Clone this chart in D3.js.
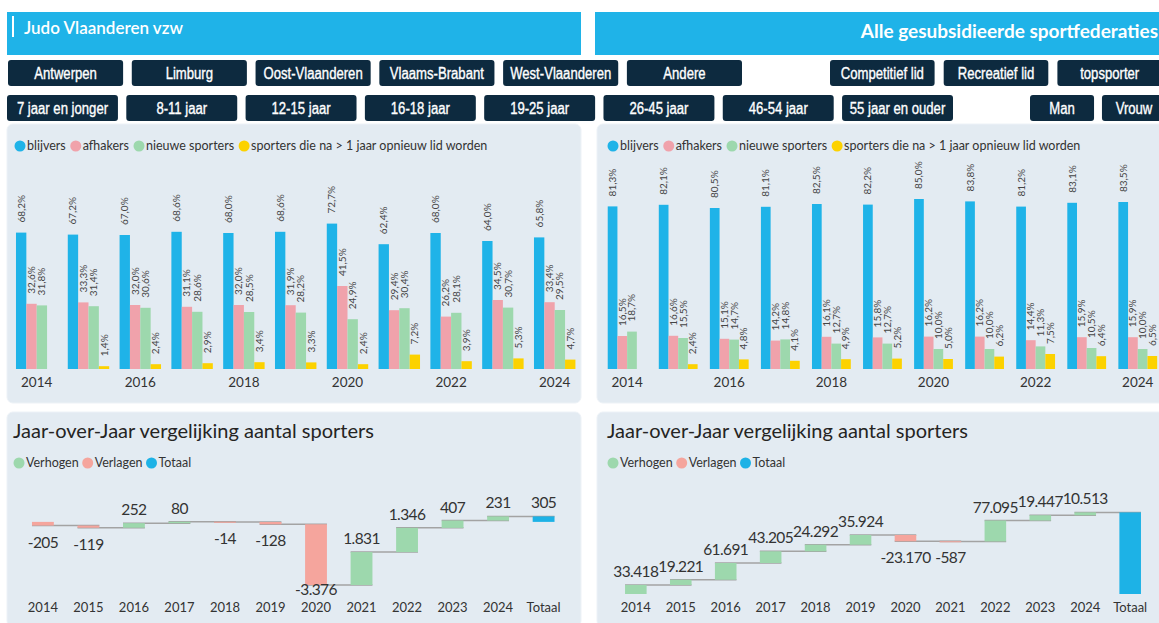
<!DOCTYPE html>
<html>
<head>
<meta charset="utf-8">
<script src="https://cdn.jsdelivr.net/npm/d3@7"></script>
<style>
  body { margin: 0; background: #fff; }
  svg { display: block; font-family: Lato, "Open Sans", sans-serif; }
</style>
</head>
<body>
<script>
// ---- data ----
const years = ["2014", "2015", "2016", "2017", "2018", "2019", "2020", "2021", "2022", "2023", "2024"];
const seriesNames = ["blijvers", "afhakers", "nieuwe sporters", "sporters die na > 1 jaar opnieuw lid worden"];

// Judo Vlaanderen vzw (%)
const judoBlijvers = [68.2, 67.2, 67.0, 68.6, 68.0, 68.6, 72.7, 62.4, 68.0, 64.0, 65.8];
const judoAfhakers = [32.6, 33.3, 32.0, 31.1, 32.0, 31.9, 41.5, 29.4, 26.2, 34.5, 33.4];
const judoNieuwe   = [31.8, 31.4, 30.6, 28.6, 28.5, 28.2, 24.9, 30.4, 28.1, 30.7, 29.5];
const judoOpnieuw  = [null, 1.4, 2.4, 2.9, 3.4, 3.3, 2.4, 7.2, 3.9, 5.3, 4.7];

// Alle gesubsidieerde sportfederaties (%)
const alleBlijvers = [81.3, 82.1, 80.5, 81.1, 82.5, 82.2, 85.0, 83.8, 81.2, 83.1, 83.5];
const alleAfhakers = [16.5, 16.6, 15.1, 14.2, 16.1, 15.8, 16.2, 16.2, 14.4, 15.9, 15.9];
const alleNieuwe   = [18.7, 15.5, 14.7, 14.8, 12.7, 12.7, 10.0, 10.0, 11.3, 10.5, 10.0];
const alleOpnieuw  = [null, 2.4, 4.8, 4.1, 4.9, 5.2, 5.0, 6.2, 7.5, 6.4, 6.5];

// jaar-over-jaar verschil aantal sporters
const wfLegend = ["Verhogen", "Verlagen", "Totaal"];
const judoDelta = [-205, -119, 252, 80, -14, -128, -3376, 1831, 1346, 407, 231];
const alleDelta = [33418, 19221, 61691, 43205, 24292, 35924, -23170, -587, 77095, 19447, 10513];

// filter knoppen
const regioButtons = ["Antwerpen", "Limburg", "Oost-Vlaanderen", "Vlaams-Brabant", "West-Vlaanderen", "Andere"];
const typeButtons = ["Competitief lid", "Recreatief lid", "topsporter"];
const leeftijdButtons = ["7 jaar en jonger", "8-11 jaar", "12-15 jaar", "16-18 jaar", "19-25 jaar", "26-45 jaar", "46-54 jaar", "55 jaar en ouder"];
const geslachtButtons = ["Man", "Vrouw"];

// ---- setup ----
const width = 1159, height = 623;
const barColors = ["#1fb3e8", "#f0a2ab", "#9dd8ad", "#fcd200"];
const wfColors = { up: "#9dd8ad", down: "#f5a59d", total: "#1db2e6" };

const nl = d3.formatLocale({ decimal: ",", thousands: ".", grouping: [3], currency: ["€", ""], minus: "-" });
const fmtPct = nl.format(".1f");
const fmtInt = nl.format(",d");

const svg = d3.select("body").append("svg")
  .attr("width", width)
  .attr("height", height);

// headers
svg.append("rect").attr("x", 7).attr("y", 12).attr("width", 574).attr("height", 43).attr("fill", "#1fb3e8");
svg.append("rect").attr("x", 12).attr("y", 16).attr("width", 2).attr("height", 21).attr("fill", "#fff");
svg.append("text").attr("x", 24).attr("y", 34).attr("fill", "#fff")
  .style("font-size", "17px").style("font-weight", "600")
  .text("Judo Vlaanderen vzw");
svg.append("rect").attr("x", 595).attr("y", 12).attr("width", 570).attr("height", 43).attr("fill", "#1fb3e8");
svg.append("text").attr("x", 1158).attr("y", 38).attr("fill", "#fff")
  .attr("text-anchor", "end")
  .style("font-size", "19px").style("font-weight", "700")
  .text("Alle gesubsidieerde sportfederaties");

// buttons (smalle letter zoals in het dashboard)
function drawButtons(labels, x0, x1, pad, y, h) {
  const x = d3.scaleBand().domain(labels).range([x0, x1]).paddingInner(pad);
  const b = svg.append("g").selectAll("g").data(labels).enter().append("g");
  b.append("rect")
    .attr("x", d => x(d)).attr("y", y)
    .attr("width", x.bandwidth()).attr("height", h)
    .attr("rx", 3).attr("fill", "#0d2a3f");
  b.append("text")
    .attr("transform", d => "translate(" + (x(d) + x.bandwidth() / 2) + "," + (y + h / 2) + ") scale(0.82,1)")
    .attr("dy", "0.36em")
    .attr("text-anchor", "middle")
    .attr("fill", "#fff")
    .attr("stroke", "#fff").attr("stroke-width", 0.35)
    .style("font-family", "'Liberation Sans', Arial, sans-serif")
    .style("font-size", "16px")
    .text(d => d);
}
drawButtons(regioButtons, 8, 742, 0.07, 60, 26);
drawButtons(typeButtons, 830, 1162, 0.08, 60, 26);
drawButtons(leeftijdButtons, 7, 953, 0.07, 95, 26);
drawButtons(geslachtButtons, 1030, 1166, 0.11, 95, 26);

// panels
[[7, 124, 574, 279], [597, 124, 570, 279], [7, 412, 574, 215], [597, 412, 570, 215]].forEach(p => {
  svg.append("rect").attr("x", p[0]).attr("y", p[1]).attr("width", p[2]).attr("height", p[3])
    .attr("rx", 6).attr("fill", "#e3ebf2").attr("stroke", "#edf2f7").attr("stroke-width", 1);
});

// legend helper
function legend(items, colors, x0, y, gap) {
  const g = svg.append("g");
  let cx = x0;
  items.forEach((name, i) => {
    g.append("circle").attr("cx", cx).attr("cy", y).attr("r", 5.5).attr("fill", colors[i]);
    const t = g.append("text").attr("x", cx + 7).attr("y", y).attr("dy", "0.35em")
      .attr("fill", "#333").style("font-size", "12.5px").text(name);
    cx += 7 + t.node().getComputedTextLength() + gap;
  });
}

// grouped bar chart
function drawBars(series, x0, x1, pi, po) {
  const g = svg.append("g");
  const x = d3.scaleBand().domain(years).range([x0, x1]).paddingInner(pi).paddingOuter(po);
  const xs = d3.scaleBand().domain(d3.range(series.length)).range([0, x.bandwidth()]);
  const y = d3.scaleLinear().domain([0, 100]).range([369, 169]);

  series.forEach((vals, si) => {
    const pts = years.map((yr, i) => ({ yr: yr, v: vals[i] })).filter(d => d.v != null);
    g.append("g").selectAll("rect").data(pts).enter().append("rect")
      .attr("x", d => x(d.yr) + xs(si))
      .attr("y", d => y(d.v))
      .attr("width", xs.bandwidth())
      .attr("height", d => y(0) - y(d.v))
      .attr("fill", barColors[si]);
    g.append("g").selectAll("text").data(pts).enter().append("text")
      .attr("transform", d => "translate(" + (x(d.yr) + xs(si) + xs.bandwidth() / 2) + "," + (y(d.v) - 10) + ") rotate(-90)")
      .attr("dy", "0.35em")
      .attr("fill", "#444")
      .style("font-size", "10px")
      .text(d => fmtPct(d.v) + "%");
  });

  g.append("g").selectAll("text").data(years.filter((d, i) => i % 2 === 0)).enter().append("text")
    .attr("x", d => x(d) + x.bandwidth() / 2)
    .attr("y", 387)
    .attr("text-anchor", "middle")
    .attr("fill", "#333")
    .style("font-size", "13.5px")
    .text(d => d);
}

legend(seriesNames, barColors, 20, 146, 10);
drawBars([judoBlijvers, judoAfhakers, judoNieuwe, judoOpnieuw], 10.8, 580.6, 0.2, 0.1);
legend(seriesNames, barColors, 613, 146, 10);
drawBars([alleBlijvers, alleAfhakers, alleNieuwe, alleOpnieuw], 601.6, 1163.3, 0.24, 0.12);

// waterfall
function drawWaterfall(deltas, titleX, xr, yr, bottomClamp, showTotal) {
  const g = svg.append("g");
  g.append("text").attr("x", titleX).attr("y", 438).attr("fill", "#252423")
    .style("font-size", "20px").text("Jaar-over-Jaar vergelijking aantal sporters");

  let cum = 0;
  const rows = deltas.map((d, i) => {
    const start = cum;
    cum += d;
    return { cat: years[i], start: start, end: cum, v: d, type: d >= 0 ? "up" : "down" };
  });
  rows.push({ cat: "Totaal", start: 0, end: cum, v: cum, type: "total" });

  const x = d3.scaleBand().domain(rows.map(r => r.cat)).range(xr).paddingInner(0.52).paddingOuter(0.25);
  const y = d3.scaleLinear().domain(d3.extent(rows.flatMap(r => [r.start, r.end]))).range(yr);

  // connectors
  g.append("g").selectAll("line").data(rows.slice(0, -1)).enter().append("line")
    .attr("x1", d => x(d.cat))
    .attr("x2", (d, i) => x(rows[i + 1].cat) + x.bandwidth())
    .attr("y1", d => y(d.end)).attr("y2", d => y(d.end))
    .attr("stroke", "#a3a3a3").attr("stroke-width", 1.5);

  g.append("g").selectAll("rect").data(rows).enter().append("rect")
    .attr("x", d => x(d.cat))
    .attr("y", d => y(Math.max(d.start, d.end)))
    .attr("width", x.bandwidth())
    .attr("height", d => Math.max(1, Math.abs(y(d.start) - y(d.end))))
    .attr("fill", d => wfColors[d.type]);

  g.append("g").selectAll("text").data(rows.filter(r => showTotal || r.type !== "total")).enter().append("text")
    .attr("x", d => x(d.cat) + x.bandwidth() / 2)
    .attr("y", d => d.v >= 0 ? y(Math.max(d.start, d.end)) - 8
                             : Math.min(bottomClamp, y(Math.min(d.start, d.end)) + 22))
    .attr("text-anchor", "middle")
    .attr("fill", "#333")
    .style("font-size", "15.5px")
    .style("letter-spacing", "-0.6px")
    .text(d => fmtInt(d.v));

  g.append("g").selectAll("text").data(rows).enter().append("text")
    .attr("x", d => x(d.cat) + x.bandwidth() / 2)
    .attr("y", 612)
    .attr("text-anchor", "middle")
    .attr("fill", "#333")
    .style("font-size", "13px")
    .text(d => d.cat);
}

legend(wfLegend, [wfColors.up, wfColors.down, wfColors.total], 19, 463, 9);
drawWaterfall(judoDelta, 13, [20.6, 565.9], [585, 516.4], 595, true);
legend(wfLegend, [wfColors.up, wfColors.down, wfColors.total], 613, 463, 9);
drawWaterfall(alleDelta, 607, [613.8, 1152.2], [594, 512.4], 598, false);
</script>
</body>
</html>
